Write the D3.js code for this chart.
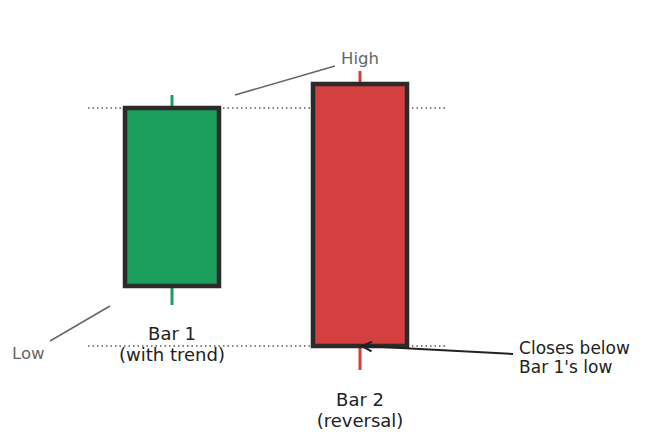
<!DOCTYPE html>
<html>
<head>
<meta charset="utf-8">
<script src="https://cdn.jsdelivr.net/npm/d3@7"></script>
<style>
  body { margin: 0; background: #fff; }
  svg { display: block; font-family: "DejaVu Sans", sans-serif; }
</style>
</head>
<body>
<div class="canvas"></div>
<script>
// candle data (price units)
const bars = ['Bar 1', 'Bar 2'];
const subLabels = ['(with trend)', '(reversal)'];
const xPos = [1, 2];
const opens = [33.2, 35.6];
const closes = [15.4, 9.4];
const highs = [34.5, 36.9];
const lows = [13.5, 7.0];
const colors = ['#1b9e5c', '#d43f3f'];
const levels = [33.2, 9.4];

const width = 672;
const height = 441;

const svg = d3.select('.canvas')
    .append('svg')
    .attr('width', width)
    .attr('height', height);

const x = d3.scaleLinear().domain([0, 3]).range([-16, 548]);
const y = d3.scaleLinear().domain([0, 44]).range([440, 0]);
const bodyW = x(0.25) - x(0);

const data = bars.map((b, i) => ({
    name: b, sub: subLabels[i], x: xPos[i],
    open: opens[i], close: closes[i], high: highs[i], low: lows[i], color: colors[i]
}));

////////// DOTTED LEVELS ///////////
svg.selectAll('line.level')
    .data(levels)
    .enter()
    .append('line')
    .attr('class', 'level')
    .attr('x1', x(0.553))
    .attr('x2', x(2.452))
    .attr('y1', d => y(d))
    .attr('y2', d => y(d))
    .attr('stroke', '#555')
    .attr('stroke-width', 1.4)
    .attr('stroke-dasharray', '1.5,3');

////////// WICKS ///////////
svg.selectAll('line.wick')
    .data(data)
    .enter()
    .append('line')
    .attr('class', 'wick')
    .attr('x1', d => x(d.x))
    .attr('x2', d => x(d.x))
    .attr('y1', d => y(d.high))
    .attr('y2', d => y(d.low))
    .attr('stroke', d => d.color)
    .attr('stroke-width', 3);

////////// BODIES ///////////
svg.selectAll('rect.body')
    .data(data)
    .enter()
    .append('rect')
    .attr('class', 'body')
    .attr('x', d => x(d.x) - bodyW)
    .attr('width', bodyW * 2)
    .attr('y', d => y(Math.max(d.open, d.close)))
    .attr('height', d => Math.abs(y(d.open) - y(d.close)))
    .attr('fill', d => d.color)
    .attr('stroke', '#2b2b2b')
    .attr('stroke-width', 4.5);

////////// BAR LABELS ///////////
const labelY = [y(10.7), y(4.1)];
const lab = svg.selectAll('g.lab')
    .data(data)
    .enter()
    .append('g')
    .attr('transform', (d, i) => `translate(${x(d.x)},${labelY[i]})`);

lab.append('text')
    .attr('text-anchor', 'middle')
    .attr('dominant-baseline', 'central')
    .attr('font-size', 18)
    .attr('fill', '#222')
    .text(d => d.name);

lab.append('text')
    .attr('y', 21)
    .attr('text-anchor', 'middle')
    .attr('dominant-baseline', 'central')
    .attr('font-size', 18)
    .attr('fill', '#222')
    .text(d => d.sub);

////////// ANNOTATIONS ///////////
// High
svg.append('line')
    .attr('x1', x(1.335)).attr('y1', y(34.5))
    .attr('x2', x(1.867)).attr('y2', y(37.4))
    .attr('stroke', '#666').attr('stroke-width', 1.5);
svg.append('text')
    .attr('x', x(1.899)).attr('y', y(38.2))
    .attr('dominant-baseline', 'central')
    .attr('font-size', 16.5)
    .attr('fill', '#666')
    .text('High');

// Low
svg.append('line')
    .attr('x1', x(0.351)).attr('y1', y(9.9))
    .attr('x2', x(0.67)).attr('y2', y(13.4))
    .attr('stroke', '#666').attr('stroke-width', 1.5);
svg.append('text')
    .attr('x', x(0.149)).attr('y', y(8.7))
    .attr('dominant-baseline', 'central')
    .attr('font-size', 16.5)
    .attr('fill', '#666')
    .text('Low');

// closes below arrow
const ax0 = x(2.814), ay0 = y(8.6);
const ax1 = x(2.01), ay1 = y(levels[1]);
svg.append('line')
    .attr('x1', ax0).attr('y1', ay0)
    .attr('x2', ax1 + 1).attr('y2', ay1)
    .attr('stroke', '#222').attr('stroke-width', 2);
const ang = Math.atan2(ay0 - ay1, ax0 - ax1);
const hl = 11, hw = 0.45;
svg.append('path')
    .attr('d', `M${ax1 + hl * Math.cos(ang - hw)},${ay1 + hl * Math.sin(ang - hw)}L${ax1},${ay1}L${ax1 + hl * Math.cos(ang + hw)},${ay1 + hl * Math.sin(ang + hw)}`)
    .attr('fill', 'none')
    .attr('stroke', '#222')
    .attr('stroke-width', 2);

const note = svg.append('text')
    .attr('font-size', 17)
    .attr('fill', '#222');
note.append('tspan')
    .attr('x', x(2.846)).attr('y', y(9.2))
    .attr('dominant-baseline', 'central')
    .text('Closes below');
note.append('tspan')
    .attr('x', x(2.846)).attr('y', y(7.3))
    .attr('dominant-baseline', 'central')
    .text("Bar 1's low");
</script>
</body>
</html>
